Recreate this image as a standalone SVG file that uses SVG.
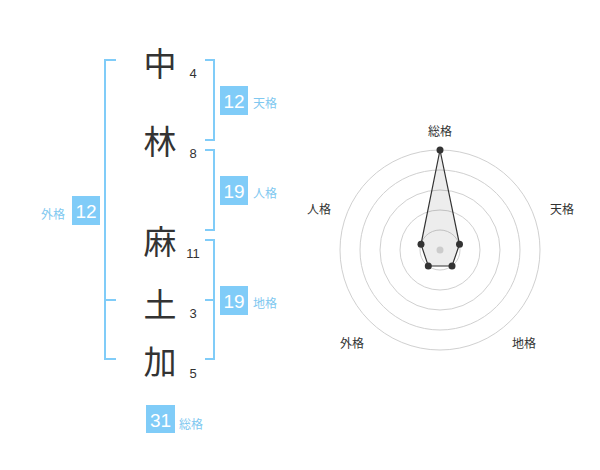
<svg xmlns="http://www.w3.org/2000/svg" width="600" height="470" viewBox="0 0 600 470">
<style>
.kanji{font-family:"Noto Sans CJK JP","Liberation Sans",sans-serif;font-size:33px;fill:#333;text-anchor:middle;dominant-baseline:central}
.num{font-family:"Liberation Sans",sans-serif;font-size:13px;fill:#333;text-anchor:middle;dominant-baseline:central}
.br{fill:none;stroke:#80ccf8;stroke-width:2}
.box{fill:#80ccf8}
.bnum{font-family:"Liberation Sans",sans-serif;font-size:19px;fill:#fff;text-anchor:middle;dominant-baseline:central}
.lbl{font-family:"Noto Sans CJK JP",sans-serif;font-size:12px;fill:#80c8f0;dominant-baseline:central}
.ring{fill:none;stroke:#d0d0d0;stroke-width:1}
.rl{font-family:"Noto Sans CJK JP",sans-serif;font-size:12px;fill:#333;text-anchor:middle;dominant-baseline:central}
</style>
<rect width="600" height="470" fill="#fff"/>
<g id="chars">
<text class="kanji" x="160" y="62">中</text>
<text class="kanji" x="160" y="140">林</text>
<text class="kanji" x="160" y="240">麻</text>
<text class="kanji" x="160" y="303">土</text>
<text class="kanji" x="160" y="360">加</text>
<text class="num" x="193" y="73">4</text>
<text class="num" x="193" y="153">8</text>
<text class="num" x="193" y="253">11</text>
<text class="num" x="193" y="313">3</text>
<text class="num" x="193" y="373">5</text>
</g>
<g id="connectors">
<path class="br" d="M205,60H214V140H205"/>
<path class="br" d="M205,150H214V230H205"/>
<path class="br" d="M205,240H214V359H205M205,300H214"/>
<path class="br" d="M116,60H105V359H116M105,300H116"/>
</g>
<g id="tenkaku">
<rect class="box" x="220" y="86" width="28" height="29"/>
<text class="bnum" x="234" y="101">12</text>
<text class="lbl" x="253" y="102">天格</text>
</g>
<g id="jinkaku">
<rect class="box" x="220" y="176" width="28" height="29"/>
<text class="bnum" x="234" y="191">19</text>
<text class="lbl" x="253" y="192">人格</text>
</g>
<g id="chikaku">
<rect class="box" x="220" y="286" width="28" height="29"/>
<text class="bnum" x="234" y="301">19</text>
<text class="lbl" x="253" y="302">地格</text>
</g>
<g id="gaikaku">
<rect class="box" x="72" y="196" width="28" height="29"/>
<text class="bnum" x="86" y="211">12</text>
<text class="lbl" x="41" y="213">外格</text>
</g>
<g id="soukaku">
<rect class="box" x="146" y="405" width="29" height="28"/>
<text class="bnum" x="160.5" y="420">31</text>
<text class="lbl" x="179" y="423">総格</text>
</g>
<g id="radar">
<circle class="ring" cx="440" cy="250" r="20"/>
<circle class="ring" cx="440" cy="250" r="40"/>
<circle class="ring" cx="440" cy="250" r="60"/>
<circle class="ring" cx="440" cy="250" r="80"/>
<circle class="ring" cx="440" cy="250" r="100"/>
<polygon points="440,150 459.5,244.3 452,266 428.3,266 421,244.3" fill="#000" fill-opacity="0.07" stroke="#333" stroke-width="1.2"/>
<g fill="#333">
<circle cx="440" cy="150" r="3.5"/>
<circle cx="459.5" cy="244.3" r="3.5"/>
<circle cx="452" cy="266" r="3.5"/>
<circle cx="428.3" cy="266" r="3.5"/>
<circle cx="421" cy="244.3" r="3.5"/>
</g>
<circle cx="440" cy="250" r="3.5" fill="#ccc"/>
<text class="rl" x="440" y="130">総格</text>
<text class="rl" x="562" y="208">天格</text>
<text class="rl" x="524" y="342">地格</text>
<text class="rl" x="352" y="342">外格</text>
<text class="rl" x="319" y="208">人格</text>
</g>
</svg>
